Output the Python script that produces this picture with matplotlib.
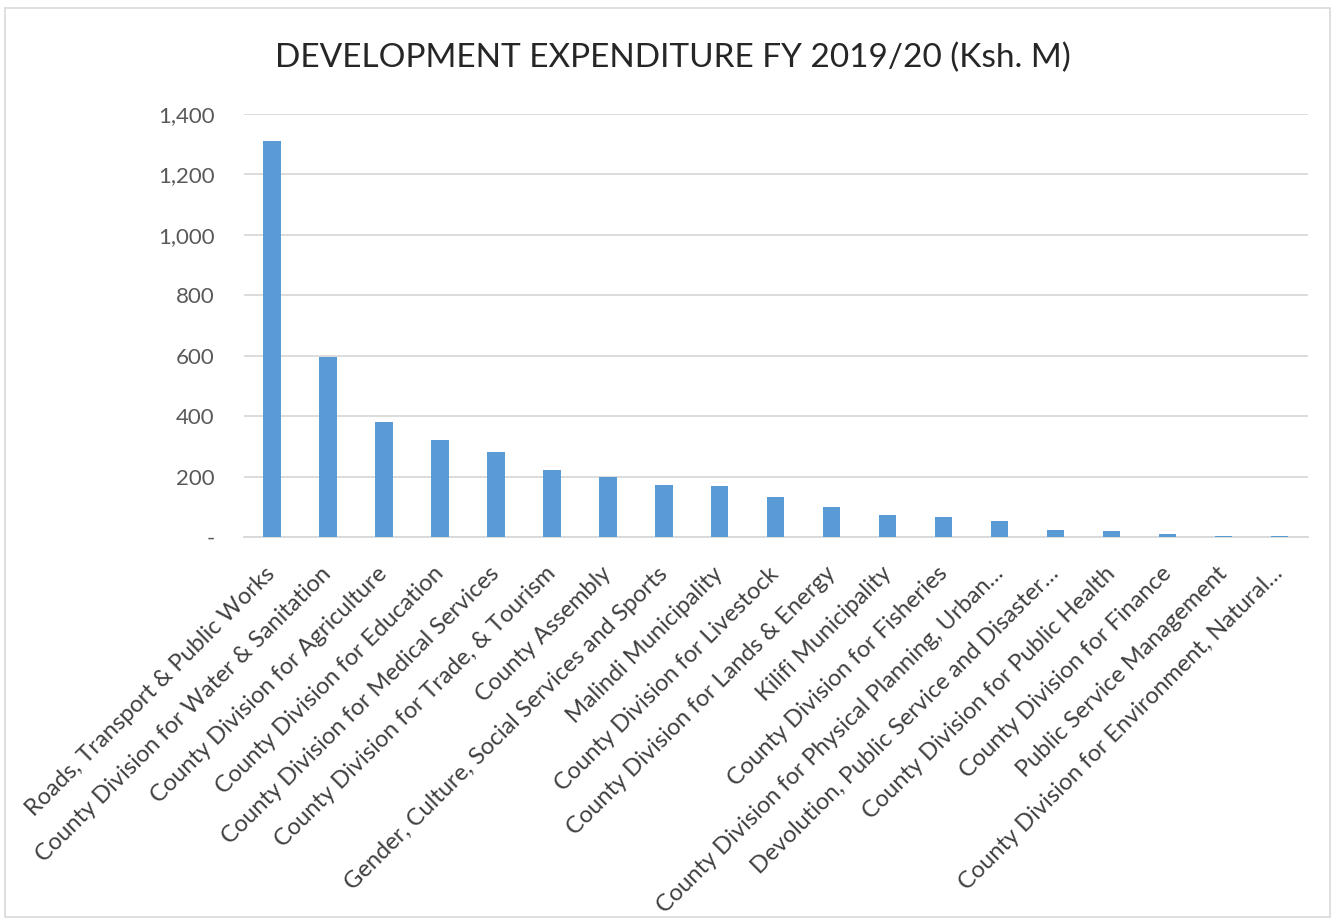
import matplotlib
matplotlib.use("Agg")
import matplotlib.pyplot as plt
from matplotlib.patches import Rectangle
from matplotlib.ticker import FuncFormatter

categories = [
    "Roads, Transport & Public Works",
    "County Division for Water & Sanitation",
    "County Division for Agriculture",
    "County Division for Education",
    "County Division for Medical Services",
    "County Division for Trade, & Tourism",
    "County Assembly",
    "Gender, Culture, Social Services and Sports",
    "Malindi Municipality",
    "County Division for Livestock",
    "County Division for Lands & Energy",
    "Kilifi Municipality",
    "County Division for Fisheries",
    "County Division for Physical Planning, Urban\u2026",
    "Devolution, Public Service and Disaster\u2026",
    "County Division for Public Health",
    "County Division for Finance",
    "Public Service Management",
    "County Division for Environment, Natural\u2026",
]
values = [1310, 597, 381, 321, 281, 223, 199, 173, 168, 131, 100, 72, 67,
          54, 23, 21, 11, 4, 3]
yticks = [0, 200, 400, 600, 800, 1000, 1200, 1400]

title = "DEVELOPMENT EXPENDITURE FY 2019/20 (Ksh. M)"

plt.rcParams['font.family'] = ['Lato', 'DejaVu Sans']

fig = plt.figure(figsize=(13.37, 9.21), dpi=100)
fig.patch.set_facecolor("white")
fig.add_artist(Rectangle((0.004, 0.004), 0.991, 0.987, transform=fig.transFigure,
                         fill=False, edgecolor="#d9d9d9", linewidth=1.2))

ax = fig.add_axes([0.1825, 0.4169, 0.7955, 0.4593])
x = list(range(len(categories)))
ax.bar(x, values, width=0.31, color="#5B9BD5", zorder=3)
ax.set_xlim(-0.5, len(categories) - 0.5)
ax.set_ylim(0, 1400)
ax.set_yticks(yticks)
ax.yaxis.set_major_formatter(FuncFormatter(lambda v, p: "-" if v == 0 else f"{int(v):,}"))
ax.grid(axis="y", color="#d9d9d9", linewidth=1.3, zorder=0)
for s in ["top", "right", "left"]:
    ax.spines[s].set_visible(False)
ax.spines["bottom"].set_color("#d9d9d9")
ax.spines["bottom"].set_linewidth(1.3)
ax.tick_params(axis="both", length=0)
ax.tick_params(axis="y", labelsize=16, labelcolor="#595959", pad=21)
ax.set_xticks(x)
ax.set_xticklabels(categories, rotation=45, ha="right", va="center",
                   rotation_mode="anchor", fontsize=17, color="#404040")
ax.tick_params(axis="x", pad=24)

fig.text(0.503, 0.937, title, ha="center", va="center", fontsize=24, color="#262626")

fig.savefig("out.png", dpi=100)
